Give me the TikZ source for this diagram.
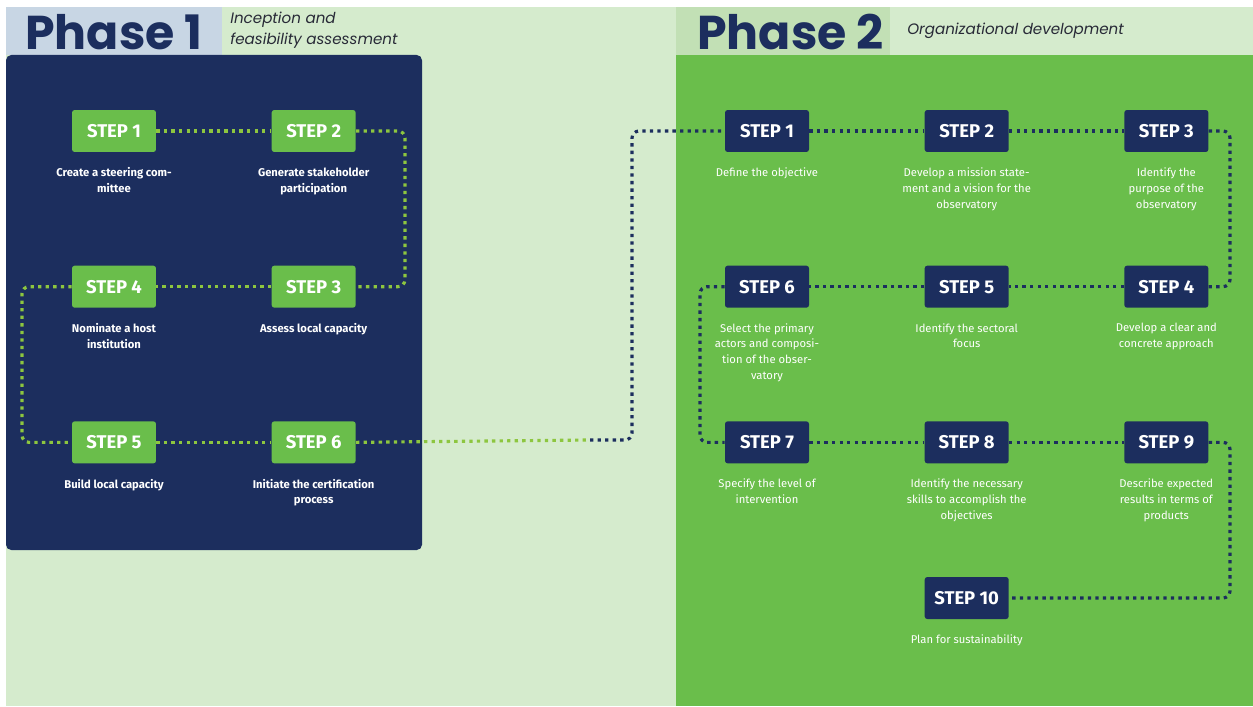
\documentclass[tikz,border=0pt]{standalone}
\usepackage{fontspec}
\setmainfont{Fira Sans}
\newfontfamily\headfont{Poppins}
\usetikzlibrary{positioning}
\definecolor{navy}{RGB}{28,46,94}
\definecolor{leaf}{RGB}{106,190,75}
\definecolor{lime}{RGB}{141,198,63}
\definecolor{pale}{RGB}{213,235,205}
\definecolor{haze}{RGB}{200,214,228}
\definecolor{moss}{RGB}{194,224,181}
\definecolor{ink}{RGB}{40,42,55}

\begin{document}
\begin{tikzpicture}[x=0.02cm,y=-0.02cm,node distance=2.26cm and 2.3cm,
stepbox/.style={rounded corners=1.5pt,minimum width=1.68cm,minimum height=0.84cm,inner sep=0pt,text=white,font=\fontsize{10.5}{12}\selectfont\bfseries},
p1box/.style={stepbox,fill=leaf},
p2box/.style={stepbox,fill=navy},
lbl/.style={align=center,text=white,inner sep=0pt,font=\fontsize{6.4}{9}\selectfont},
p1lbl/.style={lbl,font=\fontsize{6.4}{9}\selectfont\bfseries},
dots/.style={line width=1.8pt,dash pattern=on 1.9pt off 2.4pt,rounded corners=4pt},
phase/.style={anchor=base west,text=navy,inner sep=0pt,font=\headfont\fontsize{27}{30}\selectfont\bfseries},
sub/.style={anchor=north west,align=left,text=ink,inner sep=0pt,font=\headfont\fontsize{8.6}{11.8}\selectfont\itshape}]
\useasboundingbox (0,0) rectangle (1253,706);
% backgrounds
\fill[white] (0,0) rectangle (1253,706);
\fill[pale] (6,7) rectangle (1253,706);
\fill[haze] (6,7) rectangle (222,55);
\fill[moss] (676,7) rectangle (890,55);
\fill[navy,rounded corners=3pt] (6,55) rectangle (422,550);
\fill[leaf] (676,55) rectangle (1253,706);
% headers
\node[phase] (ph1) at (25,50) {Phase 1};
\node[sub] (sub1) at (230,12) {Inception and\\feasibility assessment};
\node[phase] (ph2) at (697,50) {Phase 2};
\node[sub,anchor=west] (sub2) at (907,31) {Organizational development};
% phase 1
\node[p1box] (a1) at (114,131) {STEP 1};
\node[p1box,right=of a1] (a2) {STEP 2};
\node[p1box,below=of a1] (a4) {STEP 4};
\node[p1box,right=of a4] (a3) {STEP 3};
\node[p1box,below=of a4] (a5) {STEP 5};
\node[p1box,right=of a5] (a6) {STEP 6};
\node[p1lbl,below=3mm of a1] (a1t) {Create a steering com-\\mittee};
\node[p1lbl,below=3mm of a2] (a2t) {Generate stakeholder\\participation};
\node[p1lbl,below=3mm of a3] (a3t) {Assess local capacity};
\node[p1lbl,below=3mm of a4] (a4t) {Nominate a host\\institution};
\node[p1lbl,below=3mm of a5] (a5t) {Build local capacity};
\node[p1lbl,below=3mm of a6] (a6t) {Initiate the certification\\process};
% phase 2
\node[p2box] (b1) at (767,131) {STEP 1};
\node[p2box,right=of b1] (b2) {STEP 2};
\node[p2box,right=of b2] (b3) {STEP 3};
\node[p2box,below=of b3] (b4) {STEP 4};
\node[p2box,left=of b4] (b5) {STEP 5};
\node[p2box,left=of b5] (b6) {STEP 6};
\node[p2box,below=of b6] (b7) {STEP 7};
\node[p2box,right=of b7] (b8) {STEP 8};
\node[p2box,right=of b8] (b9) {STEP 9};
\node[p2box,below=of b8] (b10) {STEP 10};
\node[lbl,below=3mm of b1] (b1t) {Define the objective};
\node[lbl,below=3mm of b2] (b2t) {Develop a mission state-\\ment and a vision for the\\observatory};
\node[lbl,below=3mm of b3] (b3t) {Identify the\\purpose of the\\observatory};
\node[lbl,below=3mm of b4] (b4t) {Develop a clear and\\concrete approach};
\node[lbl,below=3mm of b5] (b5t) {Identify the sectoral\\focus};
\node[lbl,below=3mm of b6] (b6t) {Select the primary\\actors and composi-\\tion of the obser-\\vatory};
\node[lbl,below=3mm of b7] (b7t) {Specify the level of\\intervention};
\node[lbl,below=3mm of b8] (b8t) {Identify the necessary\\skills to accomplish the\\objectives};
\node[lbl,below=3mm of b9] (b9t) {Describe expected\\results in terms of\\products};
\node[lbl,below=3mm of b10] (b10t) {Plan for sustainability};
% turning points
\coordinate (r1) at (405,0);
\coordinate (l1) at (22,0);
\coordinate (mid) at (590,440);
\coordinate (jump) at (632,0);
\coordinate (r2) at (1230,0);
\coordinate (l2) at (700,0);
% connectors
\draw[dots,lime] (a1)--(a2);
\draw[dots,lime] (a2.east)--(a2.east-|r1)--(a3.east-|r1)--(a3.east);
\draw[dots,lime] (a3)--(a4);
\draw[dots,lime] (a4.west)--(a4.west-|l1)--(a5.west-|l1)--(a5.west);
\draw[dots,lime] (a5)--(a6);
\draw[dots,lime] (a6.east)--(mid);
\draw[dots,navy] (mid)--(mid-|jump)--(b1.west-|jump)--(b1.west);
\draw[dots,navy] (b1)--(b2);
\draw[dots,navy] (b2)--(b3);
\draw[dots,navy] (b3.east)--(b3.east-|r2)--(b4.east-|r2)--(b4.east);
\draw[dots,navy] (b4)--(b5);
\draw[dots,navy] (b5)--(b6);
\draw[dots,navy] (b6.west)--(b6.west-|l2)--(b7.west-|l2)--(b7.west);
\draw[dots,navy] (b7)--(b8);
\draw[dots,navy] (b8)--(b9);
\draw[dots,navy] (b9.east)--(b9.east-|r2)--(b10.east-|r2)--(b10.east);
\end{tikzpicture}
\end{document}
